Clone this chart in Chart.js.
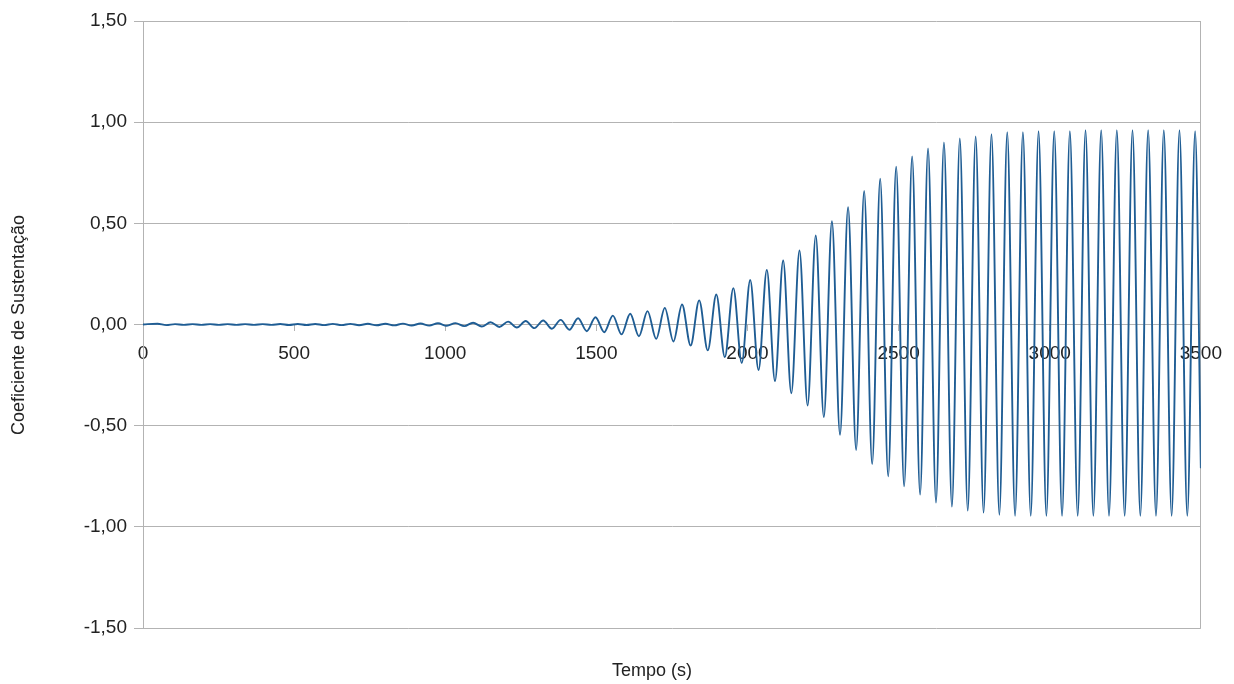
<!DOCTYPE html>
<html>
<head>
<meta charset="utf-8">
<script src="https://cdn.jsdelivr.net/npm/chart.js@4.4.1/dist/chart.umd.min.js"></script>
<style>
html,body{margin:0;padding:0;background:#fff;}
#wrap{width:1234px;height:684px;position:relative;}
</style>
</head>
<body>
<div id="wrap"><canvas id="c" width="1234" height="684"></canvas></div>
<script>
// Time (s) of each read extremum of the lift-coefficient signal
const timeS = [
  0, 48, 77, 106, 135, 164, 193, 222, 251, 280, 309, 338, 367, 396, 425,
  454, 483, 512, 541, 570, 599, 628, 657, 686, 715, 744, 773, 802, 831, 860,
  889, 918, 947, 976, 1005, 1034, 1063, 1092, 1121, 1150, 1179, 1208, 1237, 1266, 1295,
  1324, 1352.9, 1381.8, 1410.7, 1439.5, 1468.3, 1497.1, 1525.9, 1554.6, 1583.3,
  1612, 1640.7, 1669.3, 1697.9, 1726.4, 1754.9, 1783.4, 1811.8, 1840.2, 1868.5,
  1896.8, 1925, 1953.2, 1981, 2009, 2036.5, 2064, 2091, 2118, 2145,
  2172, 2198.9, 2225.8, 2252.6, 2279.4, 2306.1, 2332.8, 2359.4, 2386, 2412.5,
  2439, 2465.5, 2491.9, 2518.3, 2544.7, 2571.1, 2597.4, 2623.7, 2650, 2676.3,
  2702.5, 2728.7, 2754.9, 2781.1, 2807.2, 2833.3, 2859.4, 2885.3, 2911.2, 2937.1,
  2963, 2988.9, 3014.8, 3040.7, 3066.6, 3092.5, 3118.4, 3144.3, 3170.2, 3196.1,
  3222, 3247.9, 3273.8, 3299.7, 3325.6, 3351.5, 3377.4, 3403.3, 3429.2, 3455.1,
  3481, 3500
];
// Coeficiente de Sustentação at each of those times
const coef = [
  0, 0.004, -0.003, 0.002, -0.002, 0.002, -0.002, 0.002, -0.002, 0.002, -0.002, 0.002, -0.002, 0.002, -0.002,
  0.0025, -0.0025, 0.0025, -0.0025, 0.0025, -0.003, 0.003, -0.003, 0.003, -0.0035, 0.0035, -0.004, 0.004, -0.0045, 0.0045,
  -0.005, 0.005, -0.0055, 0.006, -0.0065, 0.007, -0.008, 0.009, -0.010, 0.011, -0.012, 0.014, -0.015, 0.017, -0.018,
  0.020, -0.021, 0.023, -0.026, 0.031, -0.033, 0.036, -0.038, 0.044, -0.049,
  0.053, -0.058, 0.066, -0.071, 0.082, -0.084, 0.099, -0.104, 0.119, -0.128,
  0.148, -0.161, 0.18, -0.19, 0.22, -0.225, 0.27, -0.28, 0.316, -0.34,
  0.366, -0.40, 0.44, -0.458, 0.51, -0.545, 0.58, -0.62, 0.66, -0.69,
  0.72, -0.75, 0.78, -0.80, 0.83, -0.84, 0.87, -0.88, 0.90, -0.90,
  0.92, -0.92, 0.93, -0.93, 0.94, -0.94, 0.95, -0.945, 0.95, -0.945,
  0.955, -0.945, 0.955, -0.945, 0.955, -0.945, 0.96, -0.945, 0.96, -0.945,
  0.96, -0.945, 0.96, -0.945, 0.96, -0.945, 0.96, -0.945, 0.96, -0.945,
  0.955, -0.71
];
const xTicks = [0, 500, 1000, 1500, 2000, 2500, 3000, 3500];
const yTicks = [-1.5, -1.0, -0.5, 0, 0.5, 1.0, 1.5];
const xTitle = 'Tempo (s)';
const yTitle = 'Coeficiente de Sustentação';

const points = timeS.map((t, i) => ({x: t, y: coef[i]}));
const GRID = '#b3b3b3';
const TXT = '#222222';
const FONT = 'Liberation Sans, Arial, sans-serif';

const titles = {
  id: 'titles',
  afterDraw(chart) {
    const c = chart.ctx;
    c.save();
    c.fillStyle = TXT;
    c.font = '18px ' + FONT;
    c.textAlign = 'center';
    c.textBaseline = 'middle';
    c.fillText(xTitle, 652, 671);
    c.translate(19, 325);
    c.rotate(-Math.PI / 2);
    c.fillText(yTitle, 0, 0);
    c.restore();
  }
};

new Chart(document.getElementById('c'), {
  type: 'line',
  data: {
    datasets: [{
      data: points,
      borderColor: '#1f5d94',
      borderWidth: 1.9,
      pointRadius: 0,
      cubicInterpolationMode: 'monotone',
      fill: false
    }]
  },
  options: {
    responsive: false,
    animation: false,
    events: [],
    layout: {padding: {left: 0, top: 21, right: 33, bottom: 56}},
    plugins: {legend: {display: false}, tooltip: {enabled: false}},
    scales: {
      x: {
        type: 'linear',
        position: {y: 0},
        min: 0, max: 3500,
        afterBuildTicks(s) { s.ticks = xTicks.map(v => ({value: v})); },
        ticks: {
          color: TXT, font: {size: 19, family: FONT}, padding: 12,
          maxRotation: 0, autoSkip: false,
          callback: v => String(v)
        },
        grid: {
          drawOnChartArea: true,
          color: ctx => (ctx.tick && ctx.tick.value === 3500) ? GRID : 'rgba(0,0,0,0)',
          tickColor: GRID,
          tickLength: 6,
          lineWidth: 1
        },
        border: {display: true, color: GRID}
      },
      y: {
        min: -1.5, max: 1.5,
        afterBuildTicks(s) { s.ticks = yTicks.map(v => ({value: v})); },
        afterFit(s) { s.width = 143; },
        ticks: {
          color: TXT, font: {size: 19, family: FONT}, padding: 7,
          callback: v => v.toFixed(2).replace('.', ',')
        },
        grid: {color: GRID, tickColor: GRID, tickLength: 9, lineWidth: 1},
        border: {display: true, color: GRID}
      }
    }
  },
  plugins: [titles]
});
</script>
</body>
</html>
